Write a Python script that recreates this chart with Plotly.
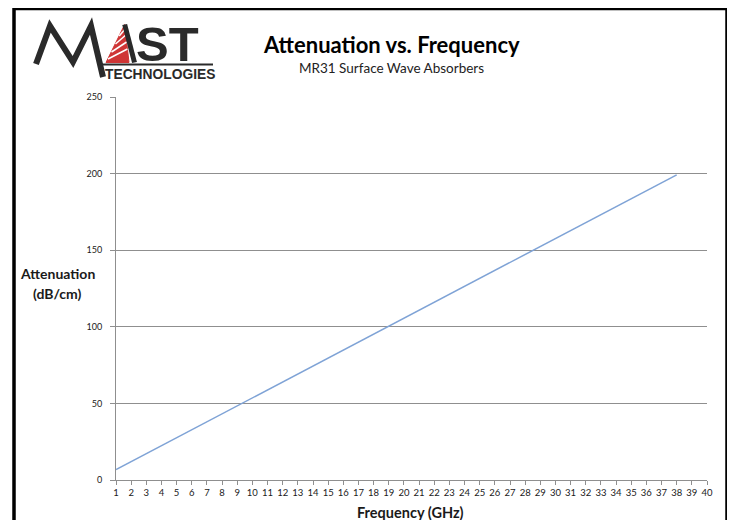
import plotly.graph_objects as go

# ---- data ----
freq_ghz = [1, 2, 3, 4, 5, 6, 7, 8, 9, 10, 11, 12, 13, 14, 15, 16, 17, 18, 19, 20,
            21, 22, 23, 24, 25, 26, 27, 28, 29, 30, 31, 32, 33, 34, 35, 36, 37, 38]
attenuation = [6.8, 12.0, 17.2, 22.4, 27.6, 32.8, 38.0, 43.2, 48.4, 53.6,
               58.8, 64.0, 69.2, 74.4, 79.6, 84.8, 90.0, 95.2, 100.4, 105.6,
               110.8, 116.0, 121.2, 126.4, 131.6, 136.8, 142.0, 147.2, 152.4, 157.6,
               162.8, 168.0, 173.2, 178.4, 183.6, 188.8, 194.0, 199.2]
x_ticks = [1, 2, 3, 4, 5, 6, 7, 8, 9, 10, 11, 12, 13, 14, 15, 16, 17, 18, 19, 20,
           21, 22, 23, 24, 25, 26, 27, 28, 29, 30, 31, 32, 33, 34, 35, 36, 37, 38, 39, 40]
y_ticks = [0, 50, 100, 150, 200, 250]

W, H = 735, 520
OFF = 8  # page body margin
L, R, T, B = 116, 707, 97, 480  # plot area in screen pixels


def px(x):
    return (x - L) / (R - L)


def py(y):
    return (B - y) / (B - T)


def path(points):
    return "M " + " L ".join(f"{px(a):.5f},{py(b):.5f}" for a, b in points)


def seg(x0, y0, x1, y1, color, width):
    return dict(type="line", xref="paper", yref="paper", x0=px(x0), y0=py(y0), x1=px(x1), y1=py(y1),
                line=dict(color=color, width=width))


TXT = "#1a1a1a"
LOGO = "#2a2a2a"
GRID = "#8f8f8f"
FONT = "Lato"

fig = go.Figure()
fig.add_trace(go.Scatter(x=freq_ghz, y=attenuation, mode="lines",
                         line=dict(color="#7fa3d6", width=1.5), hoverinfo="x+y"))

shapes = [
    # outer frame
    dict(type="rect", xref="paper", yref="paper", x0=px(14), x1=px(727), y0=py(545), y1=py(8.5),
         line=dict(color="black", width=3.5), layer="above"),
    # logo M
    dict(type="path", xref="paper", yref="paper",
         path=path([(36, 64), (50, 26), (73, 62), (91, 26), (103, 77)]),
         line=dict(color=LOGO, width=6)),
    # logo A triangle (red)
    dict(type="path", xref="paper", yref="paper",
         path=path([(106, 62.5), (124.7, 24.5), (129, 62.5)]) + " Z",
         fillcolor="#cf3535", line=dict(color="#cf3535", width=1)),
    seg(119.2, 36, 125.1, 29, "white", 1.5),
    seg(115.5, 44, 125.8, 35, "white", 1.5),
    seg(111.5, 52, 126.6, 42, "white", 1.5),
    seg(108, 59, 127.4, 49, "white", 1.5),
    seg(124.7, 24.5, 134.5, 62.5, LOGO, 5),
    # underline
    seg(98, 64.5, 213, 64.5, LOGO, 2),
]

annotations = [
    dict(text="<b>ST</b>", x=px(133.5), y=py(44), xanchor="left", yanchor="middle",
         font=dict(family="Liberation Sans", size=49, color=LOGO)),
    dict(text="<b>TECHNOLOGIES</b>", x=px(103), y=py(74), xanchor="left", yanchor="middle",
         font=dict(family="Liberation Sans", size=13.8, color=LOGO)),
    dict(text="<b>Attenuation vs. Frequency</b>", x=px(391), y=py(45), xanchor="center", yanchor="middle",
         font=dict(family=FONT, size=22, color="black")),
    dict(text="MR31 Surface Wave Absorbers", x=px(391), y=py(68), xanchor="center", yanchor="middle",
         font=dict(family=FONT, size=13.5, color="#222222")),
    dict(text="<b>Attenuation</b>", x=px(57), y=py(273), xanchor="center", yanchor="middle",
         font=dict(family=FONT, size=14, color=TXT)),
    dict(text="<b>(dB/cm)</b>", x=px(57), y=py(293), xanchor="center", yanchor="middle",
         font=dict(family=FONT, size=14, color=TXT)),
    dict(text="<b>Frequency (GHz)</b>", x=px(410), y=py(512), xanchor="center", yanchor="middle",
         font=dict(family=FONT, size=14.5, color=TXT)),
]
for a in annotations:
    a.update(xref="paper", yref="paper", showarrow=False)

fig.update_layout(
    width=W, height=H,
    margin=dict(l=L - OFF, r=W - (R - OFF), t=T - OFF, b=H - (B - OFF), pad=0),
    paper_bgcolor="white", plot_bgcolor="white",
    showlegend=False,
    shapes=shapes, annotations=annotations,
    font=dict(family=FONT, color=TXT),
)
fig.update_xaxes(range=[1, 40], tickmode="array", tickvals=x_ticks, ticktext=[str(v) for v in x_ticks],
                 showgrid=False, zeroline=False, showline=True, linecolor=GRID, linewidth=1,
                 ticks="outside", ticklen=4, tickcolor=GRID, tickfont=dict(size=9.5, color=TXT, family=FONT))
fig.update_yaxes(range=[0, 250], tickmode="array", tickvals=y_ticks, ticktext=[str(v) for v in y_ticks],
                 showgrid=True, gridcolor=GRID, gridwidth=1, zeroline=False,
                 showline=True, linecolor=GRID, linewidth=1,
                 ticks="outside", ticklen=5, tickcolor=GRID, ticklabelstandoff=6,
                 tickfont=dict(size=9, color=TXT, family=FONT))

fig.write_html("out.html")
